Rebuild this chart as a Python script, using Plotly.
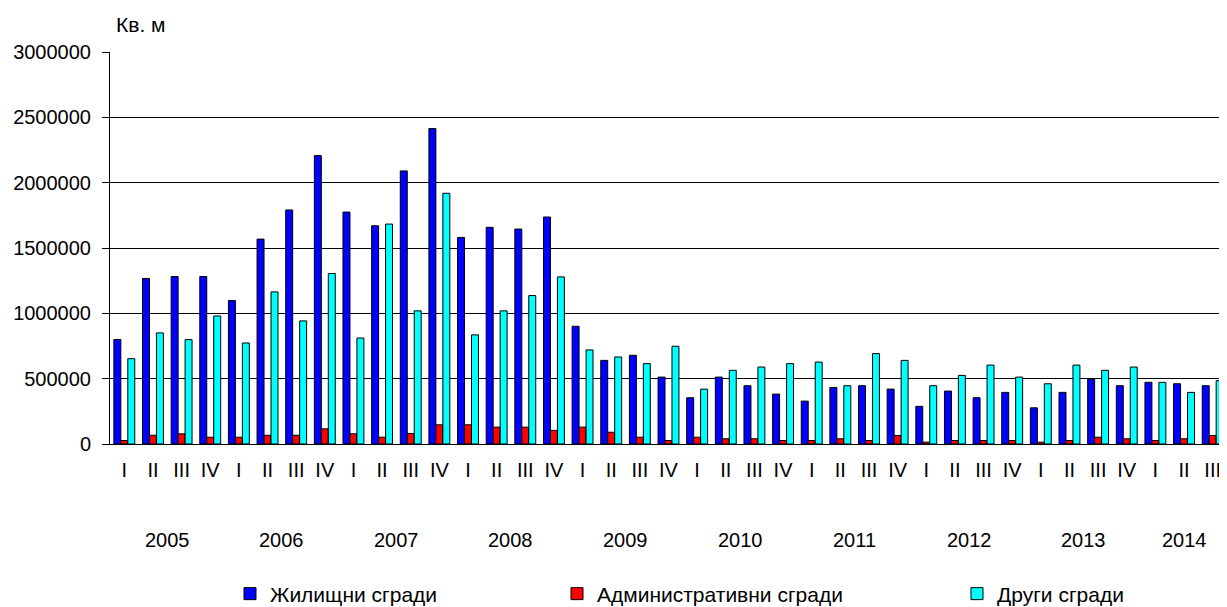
import plotly.graph_objects as go

years = ["2005", "2006", "2007", "2008", "2009", "2010", "2011", "2012", "2013", "2014"]
quarters_per_year = [4, 4, 4, 4, 4, 4, 4, 4, 4, 3]
quarter_names = ["I", "II", "III", "IV"]

residential = [800000, 1267000, 1282000, 1282000, 1098000, 1568000, 1791000, 2207000,
               1775000, 1670000, 2090000, 2414000, 1581000, 1658000, 1645000, 1737000,
               901000, 640000, 679000, 512000, 354000, 512000, 446000, 382000,
               328000, 433000, 446000, 420000, 288000, 405000, 354000, 395000,
               277000, 395000, 497000, 446000, 472000, 461000, 446000]
administrative = [27000, 67000, 78000, 52000, 52000, 67000, 67000, 116000,
                  78000, 52000, 80000, 147000, 147000, 129000, 129000, 104000,
                  129000, 90000, 52000, 27000, 52000, 40000, 40000, 27000,
                  27000, 40000, 27000, 65000, 14000, 27000, 27000, 27000,
                  14000, 27000, 52000, 40000, 27000, 40000, 65000]
other = [653000, 850000, 799000, 980000, 773000, 1164000, 942000, 1305000,
         811000, 1683000, 1019000, 1919000, 835000, 1019000, 1136000, 1279000,
         720000, 666000, 615000, 748000, 420000, 564000, 589000, 615000,
         627000, 446000, 692000, 640000, 446000, 525000, 604000, 512000,
         461000, 604000, 564000, 589000, 472000, 395000, 485000]

series_names = ["Жилищни сгради", "Административни сгради", "Други сгради"]
series_colors = ["#0000FF", "#FF0000", "#00FFFF"]

# build period labels
quarter_labels = []
year_groups = []
idx = 0
for y, n in zip(years, quarters_per_year):
    year_groups.append((y, idx, idx + n - 1))
    for q in range(n):
        quarter_labels.append(quarter_names[q])
        idx += 1
xpos = list(range(len(quarter_labels)))

FONT = "Liberation Sans, Arial, sans-serif"
OFF = 8  # page body margin
W, H = 1227 - OFF, 607
ML, MR, MT = 110 - OFF, 0, 52 - OFF
MB = H - (444 - OFF)
PW = W - ML - MR
PH = H - MT - MB

fig = go.Figure()
legend_ids = ["legend", "legend2", "legend3"]
for name, vals, col, lg in zip(series_names, [residential, administrative, other], series_colors, legend_ids):
    fig.add_trace(go.Bar(
        x=xpos, y=vals, name=name, legend=lg,
        marker=dict(color=col, line=dict(color="#000000", width=1)),
    ))

def px_x(p):
    return (p - OFF - ML) / PW

def px_y(p):
    return (H - MB - (p - OFF)) / PH

annotations = []
for y, a, b in year_groups:
    annotations.append(dict(x=(a + b) / 2, y=px_y(540), xref="x", yref="paper",
                            text=y, showarrow=False, xanchor="center", yanchor="middle",
                            font=dict(family=FONT, size=20, color="#000")))
annotations.append(dict(x=px_x(114), y=px_y(24), xref="paper", yref="paper",
                        text="Кв. м", showarrow=False, xanchor="left", yanchor="middle",
                        font=dict(family=FONT, size=21, color="#000")))

legend_left = [230, 557, 957]
leg_common = dict(orientation="h", yanchor="middle", xanchor="left",
                  font=dict(family=FONT, size=21, color="#000"),
                  bgcolor="rgba(0,0,0,0)", itemwidth=30)
layout_legends = {}
for lg, lx in zip(legend_ids, legend_left):
    layout_legends[lg] = dict(x=px_x(lx), y=px_y(594), **leg_common)

fig.update_layout(
    width=W, height=H,
    margin=dict(l=ML, r=MR, t=MT, b=MB, pad=0),
    paper_bgcolor="white", plot_bgcolor="white",
    barmode="group", bargap=0.27, bargroupgap=0,
    font=dict(family=FONT, size=20, color="#000"),
    showlegend=True,
    annotations=annotations,
    xaxis=dict(
        range=[-0.5, len(xpos) - 0.5],
        tickmode="array", tickvals=xpos, ticktext=quarter_labels,
        showline=True, linecolor="#000", linewidth=1,
        ticks="", showgrid=False, zeroline=False,
        tickfont=dict(family=FONT, size=20, color="#000"),
        ticklabelstandoff=8,
    ),
    yaxis=dict(
        range=[0, 3000000], tickmode="array",
        tickvals=[0, 500000, 1000000, 1500000, 2000000, 2500000, 3000000],
        ticktext=["0", "500000", "1000000", "1500000", "2000000", "2500000", "3000000"],
        showline=True, linecolor="#000", linewidth=1,
        ticks="outside", ticklen=7, tickcolor="#000",
        showgrid=True, gridcolor="#000", gridwidth=1, zeroline=False,
        tickfont=dict(family=FONT, size=20, color="#000"),
        ticklabelstandoff=7,
    ),
    **layout_legends,
)

fig.write_html("out.html")
